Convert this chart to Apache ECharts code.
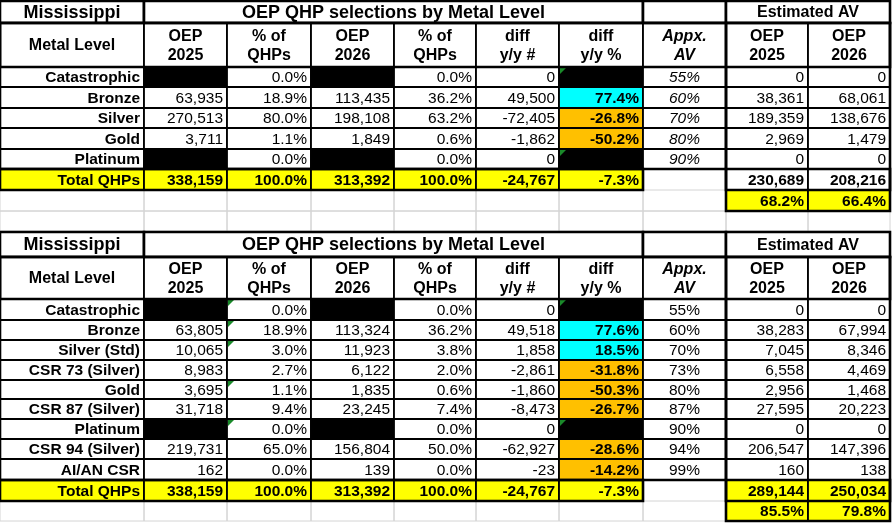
<!DOCTYPE html>
<html>
<head>
<meta charset="utf-8">
<script src="https://cdn.jsdelivr.net/npm/echarts@6/dist/echarts.min.js"></script>
<style>
  html, body { margin: 0; padding: 0; background: #fff; }
  #chart { width: 892px; height: 523px; }
</style>
</head>
<body>
<div id="chart"></div>
<script>
// ---- text ----
const stateName = 'Mississippi';
const tableTitle = 'OEP QHP selections by Metal Level';
const avTitle = 'Estimated AV';
const headers = ['Metal Level', 'OEP\n2025', '% of\nQHPs', 'OEP\n2026', '% of\nQHPs',
  'diff\ny/y #', 'diff\ny/y %', 'Appx.\nAV', 'OEP\n2025', 'OEP\n2026'];
const totalLabel = 'Total QHPs';

// ---- table 1 (metal levels) ----
const levels1 = ['Catastrophic', 'Bronze', 'Silver', 'Gold', 'Platinum'];
const oep2025_1 = [null, 63935, 270513, 3711, null];
const pct2025_1 = [0.0, 18.9, 80.0, 1.1, 0.0];
const oep2026_1 = [null, 113435, 198108, 1849, null];
const pct2026_1 = [0.0, 36.2, 63.2, 0.6, 0.0];
const diffNum1 = [0, 49500, -72405, -1862, 0];
const diffPct1 = [null, 77.4, -26.8, -50.2, null];
const av1 = [55, 60, 70, 80, 90];
const est2025_1 = [0, 38361, 189359, 2969, 0];
const est2026_1 = [0, 68061, 138676, 1479, 0];
const totals1 = [338159, 100.0, 313392, 100.0, -24767, -7.3];
const estTotals1 = [230689, 208216];
const estShare1 = [68.2, 66.4];

// ---- table 2 (with CSR breakdown) ----
const levels2 = ['Catastrophic', 'Bronze', 'Silver (Std)', 'CSR 73 (Silver)', 'Gold',
  'CSR 87 (Silver)', 'Platinum', 'CSR 94 (Silver)', 'AI/AN CSR'];
const oep2025_2 = [null, 63805, 10065, 8983, 3695, 31718, null, 219731, 162];
const pct2025_2 = [0.0, 18.9, 3.0, 2.7, 1.1, 9.4, 0.0, 65.0, 0.0];
const oep2026_2 = [null, 113324, 11923, 6122, 1835, 23245, null, 156804, 139];
const pct2026_2 = [0.0, 36.2, 3.8, 2.0, 0.6, 7.4, 0.0, 50.0, 0.0];
const diffNum2 = [0, 49518, 1858, -2861, -1860, -8473, 0, -62927, -23];
const diffPct2 = [null, 77.6, 18.5, -31.8, -50.3, -26.7, null, -28.6, -14.2];
const av2 = [55, 60, 70, 73, 80, 87, 90, 94, 99];
const est2025_2 = [0, 38283, 7045, 6558, 2956, 27595, 0, 206547, 160];
const est2026_2 = [0, 67994, 8346, 4469, 1468, 20223, 0, 147396, 138];
const totals2 = [338159, 100.0, 313392, 100.0, -24767, -7.3];
const estTotals2 = [289144, 250034];
const estShare2 = [85.5, 79.8];

// ---- sheet layout (pixels on the value axes) ----
const colEdges = [0, 144, 227, 311, 394, 476, 559, 643, 726, 808, 890];
const rowEdges1 = [1, 23, 67, 87, 108, 128, 149, 169, 190, 211, 231];
const rowEdges2 = [232, 257, 299, 320, 340, 360, 380, 399, 419, 439, 459, 480, 501, 521];

const FONT = '"Liberation Sans", Arial, sans-serif';
const YELLOW = '#ffff00', CYAN = '#00ffff', ORANGE = '#ffc000', GRID = '#d4d4d4';
const THIN = 1.8, THICK = 2.6;

const fmtInt = v => v.toLocaleString('en-US');
const fmtPct = v => v.toFixed(1) + '%';

const cells = [];
const grayCells = [];
const outlines = [];

function addTable(t) {
  const r = t.rows;
  const n = t.levels.length;
  const k = 2 + n; // total row index in r
  const base = { stroke: '#000', lw: THIN, fill: '#fff', size: 15.5 };
  const put = (c0, c1, y0, y1, o) => cells.push(Object.assign({}, base, { c0, c1, y0, y1 }, o));

  // title row
  put(0, 1, r[0], r[1], { text: stateName, bold: true, size: 18, align: 'center', lw: THICK });
  put(1, 7, r[0], r[1], { text: tableTitle, bold: true, size: 18, align: 'center', lw: THICK });
  put(7, 8, r[0], r[1], { lw: THICK });
  put(8, 10, r[0], r[1], { text: avTitle, bold: true, size: 16, align: 'center', lw: THICK });

  // header row
  headers.forEach((h, c) => put(c, c + 1, r[1], r[2],
    { text: h, bold: true, size: 16, align: 'center', italic: c === 7 }));

  // data rows
  for (let i = 0; i < n; i++) {
    const y0 = r[2 + i], y1 = r[3 + i];
    const blk = v => v == null ? { fill: '#000' } : { text: fmtInt(v), align: 'right' };
    put(0, 1, y0, y1, { text: t.levels[i], bold: true, align: 'right' });
    put(1, 2, y0, y1, blk(t.oep25[i]));
    put(2, 3, y0, y1, { text: fmtPct(t.pct25[i]), align: 'right' });
    put(3, 4, y0, y1, blk(t.oep26[i]));
    put(4, 5, y0, y1, { text: fmtPct(t.pct26[i]), align: 'right' });
    put(5, 6, y0, y1, { text: fmtInt(t.diff[i]), align: 'right' });
    const d = t.diffPct[i];
    put(6, 7, y0, y1, d == null ? { fill: '#000' }
      : { text: fmtPct(d), bold: true, align: 'right', fill: d >= 0 ? CYAN : ORANGE });
    put(7, 8, y0, y1, { text: t.av[i] + '%', align: 'center', italic: t.avItalic });
    put(8, 9, y0, y1, { text: fmtInt(t.est25[i]), align: 'right' });
    put(9, 10, y0, y1, { text: fmtInt(t.est26[i]), align: 'right' });
  }

  // total row
  const ty0 = r[k], ty1 = r[k + 1];
  put(0, 1, ty0, ty1, { text: totalLabel, bold: true, align: 'right', fill: YELLOW });
  t.totals.forEach((v, j) => put(1 + j, 2 + j, ty0, ty1, {
    text: (j === 1 || j === 3 || j === 5) ? fmtPct(v) : fmtInt(v),
    bold: true, align: 'right', fill: YELLOW
  }));
  t.estTotals.forEach((v, j) => put(8 + j, 9 + j, ty0, ty1,
    { text: fmtInt(v), bold: true, align: 'right', fill: t.estTotalFill }));

  // share row under the AV totals, empty sheet cells beside it
  const sy0 = r[k + 1], sy1 = r[k + 2];
  for (let c = 0; c < 8; c++) grayCells.push({ c0: c, c1: c + 1, y0: sy0, y1: sy1, stroke: GRID, lw: 1, fill: 'none' });
  t.estShare.forEach((v, j) => put(8 + j, 9 + j, sy0, sy1,
    { text: fmtPct(v), bold: true, align: 'right', fill: YELLOW }));

  // extra blank sheet rows
  for (let b = k + 2; b < r.length - 1; b++) {
    for (let c = 0; c < 10; c++) grayCells.push({ c0: c, c1: c + 1, y0: r[b], y1: r[b + 1], stroke: GRID, lw: 1, fill: 'none' });
  }

  // Excel error markers
  t.flags.forEach(([c, i]) => { cells.find(o => o.c0 === c && o.c1 === c + 1 && o.y0 === r[2 + i]).flag = true; });

  // heavier borders
  const box = (c0, c1, y0, y1) => outlines.push({ c0, c1, y0, y1, stroke: '#000', lw: THICK, fill: 'none' });
  box(0, 10, r[1], r[2]);
  box(0, 8, r[1], r[k]);
  box(0, 7, r[k], r[k + 1]);
  box(8, 10, r[1], r[k + 2]);
  box(8, 10, r[k], r[k + 1]);
}

addTable({
  rows: rowEdges1, levels: levels1, oep25: oep2025_1, pct25: pct2025_1, oep26: oep2026_1,
  pct26: pct2026_1, diff: diffNum1, diffPct: diffPct1, av: av1, est25: est2025_1, est26: est2026_1,
  totals: totals1, estTotals: estTotals1, estShare: estShare1,
  avItalic: true, estTotalFill: '#fff', flags: [[6, 0], [6, 4]]
});
addTable({
  rows: rowEdges2, levels: levels2, oep25: oep2025_2, pct25: pct2025_2, oep26: oep2026_2,
  pct26: pct2026_2, diff: diffNum2, diffPct: diffPct2, av: av2, est25: est2025_2, est26: est2026_2,
  totals: totals2, estTotals: estTotals2, estShare: estShare2,
  avItalic: false, estTotalFill: YELLOW, flags: [[2, 0], [2, 1], [2, 2], [2, 4], [2, 6], [6, 0], [6, 6]]
});

// the cell of Appx. AV in the total row has no border of its own
const items = grayCells.concat(cells, outlines);

function renderItem(params, api) {
  const c = items[params.dataIndex];
  const p0 = api.coord([colEdges[c.c0], c.y0]);
  const p1 = api.coord([colEdges[c.c1], c.y1]);
  const x = p0[0], y = p0[1], w = p1[0] - p0[0], h = p1[1] - p0[1];
  const children = [{
    type: 'rect',
    shape: { x, y, width: w, height: h },
    style: { fill: c.fill, stroke: c.stroke, lineWidth: c.lw }
  }];
  if (c.flag) {
    children.push({
      type: 'polygon',
      shape: { points: [[x + 1, y + 1], [x + 7, y + 1], [x + 1, y + 7]] },
      style: { fill: '#1a8a2a' }
    });
  }
  if (c.text != null) {
    children.push({
      type: 'text',
      style: {
        x: c.align === 'center' ? x + w / 2 : x + w - 4,
        y: y + h / 2 + 1,
        text: c.text,
        fill: '#000',
        font: (c.italic ? 'italic ' : '') + (c.bold ? 'bold ' : '') + c.size + 'px ' + FONT,
        textAlign: c.align,
        textVerticalAlign: 'middle',
        lineHeight: 19
      }
    });
  }
  return { type: 'group', children };
}

const chart = echarts.init(document.getElementById('chart'));
chart.setOption({
  animation: false,
  backgroundColor: '#fff',
  grid: { left: 0, right: 0, top: 0, bottom: 0 },
  xAxis: { type: 'value', min: 0, max: 892, show: false },
  yAxis: { type: 'value', min: 0, max: 523, inverse: true, show: false },
  series: [{
    type: 'custom',
    silent: true,
    clip: false,
    renderItem,
    data: items.map(c => [colEdges[c.c0], c.y0, colEdges[c.c1], c.y1])
  }]
});
</script>
</body>
</html>
